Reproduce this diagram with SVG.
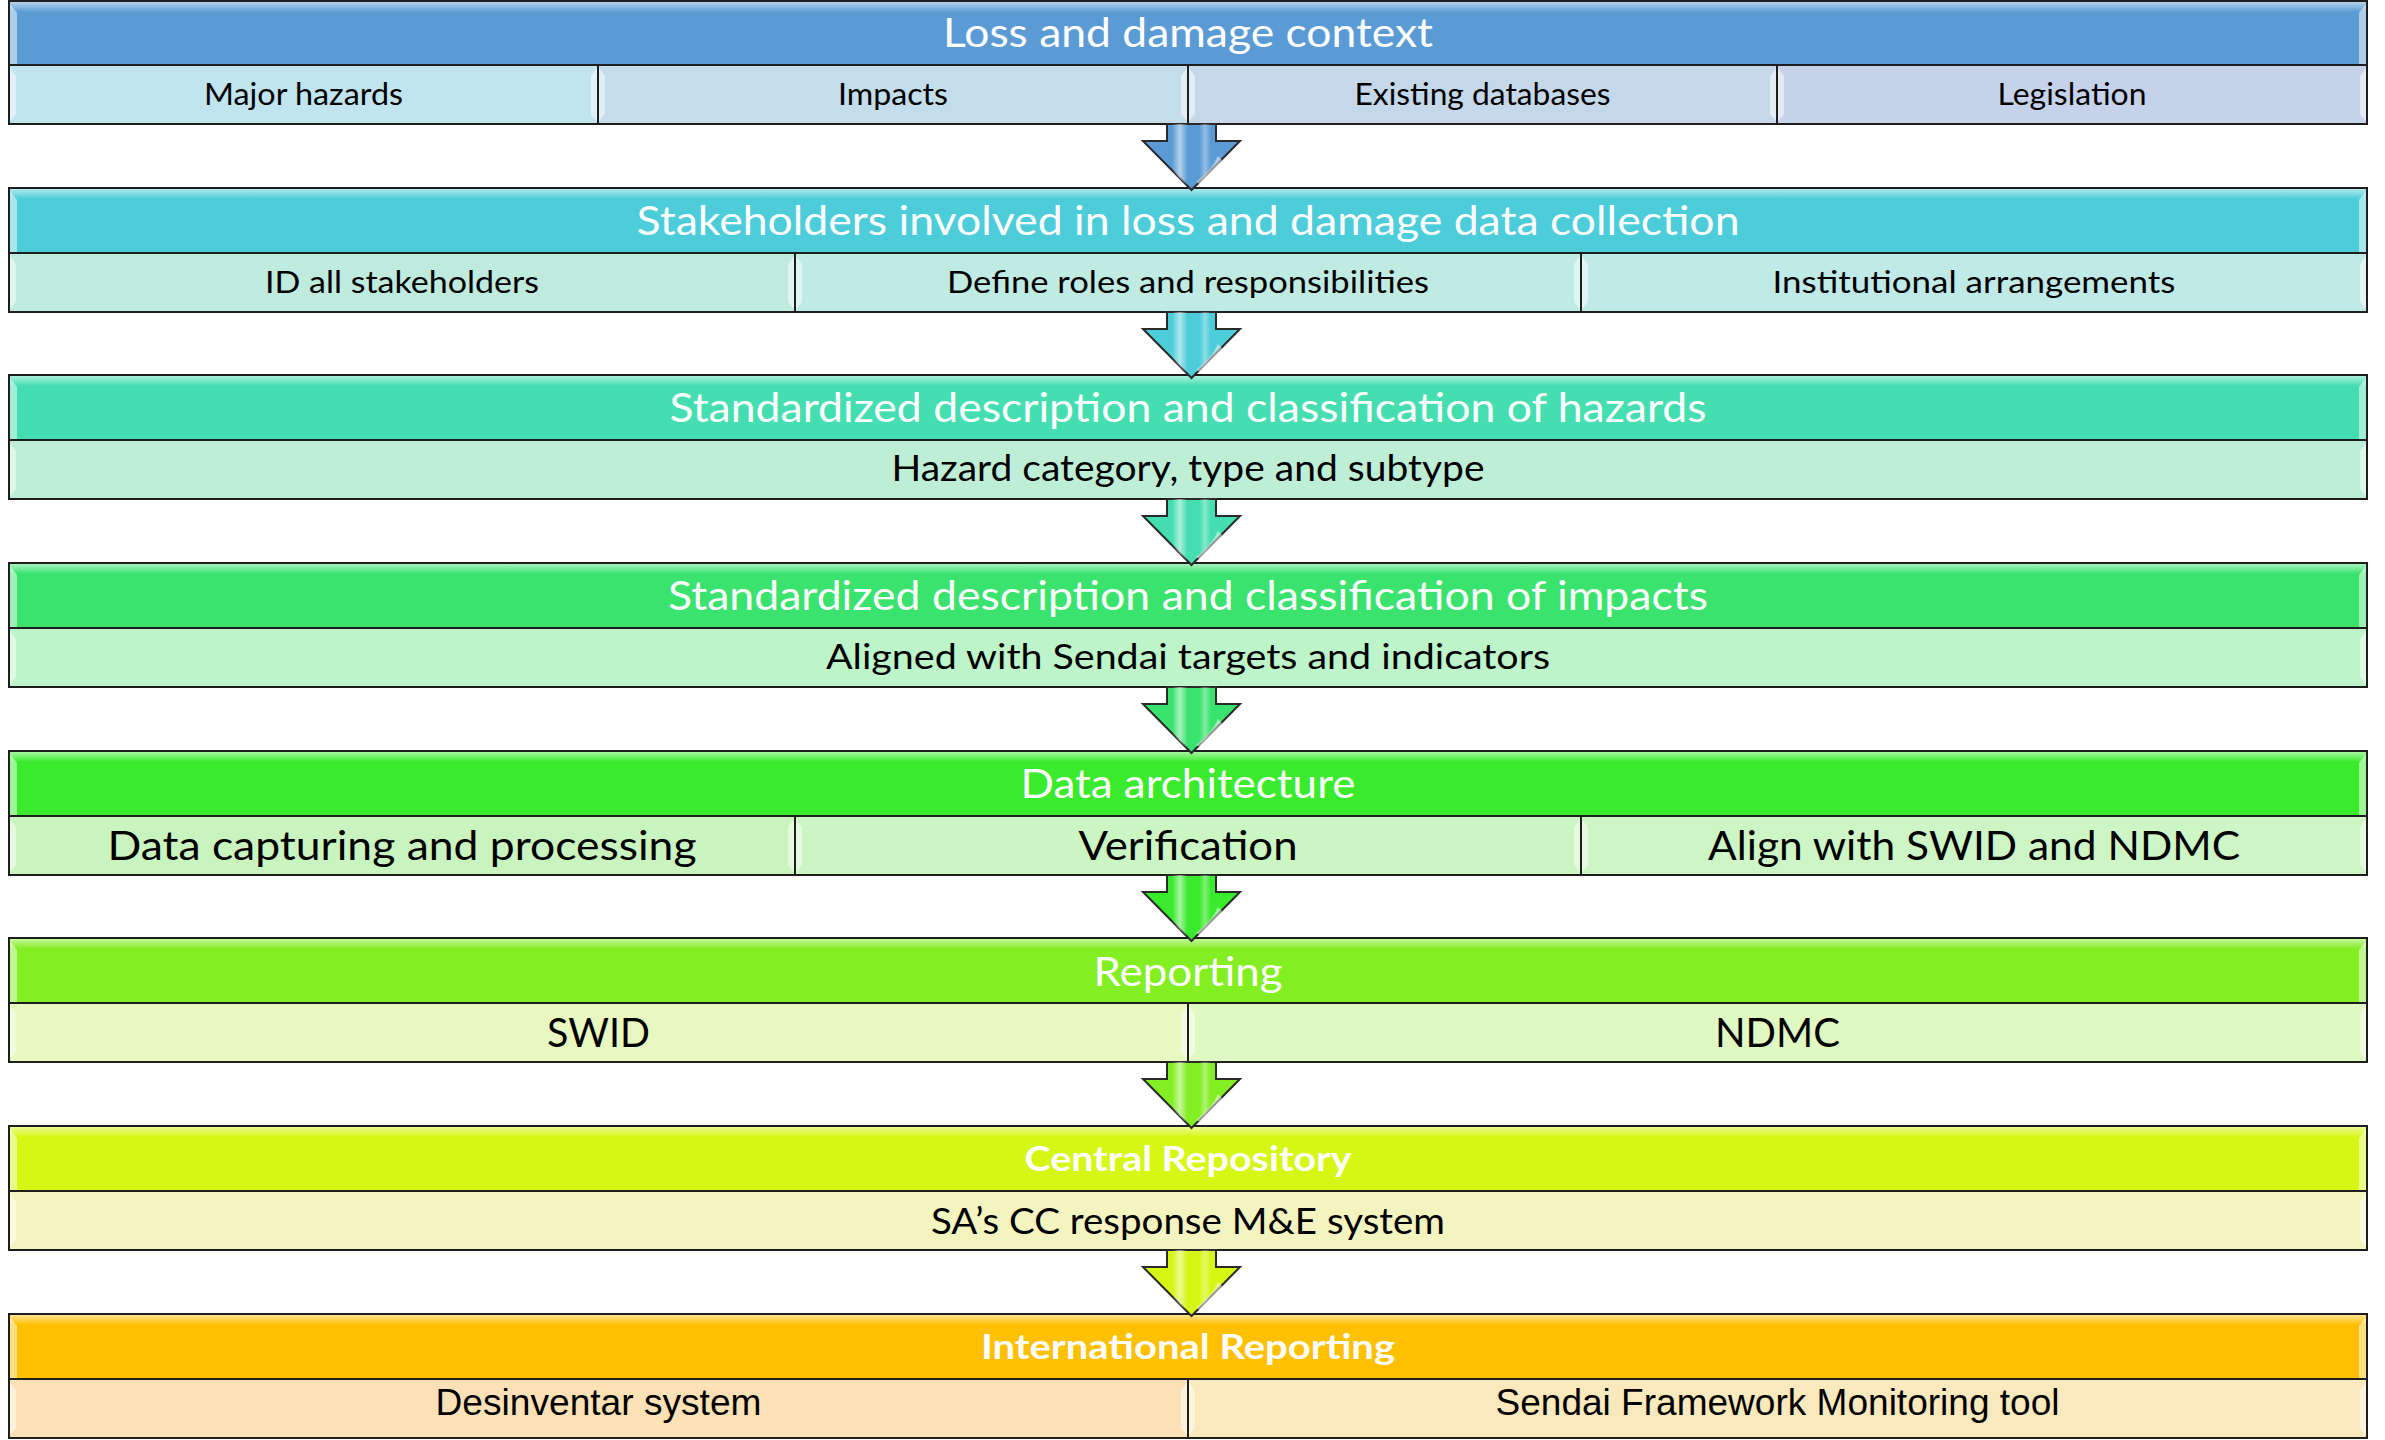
<svg xmlns="http://www.w3.org/2000/svg" xmlns:xlink="http://www.w3.org/1999/xlink" width="2385" height="1440" viewBox="0 0 2385 1440">
<style>
.hdr{stroke:#1e1e1e;stroke-width:2}
.cell{stroke:#1e1e1e;stroke-width:2}
.ht{font-family:Lato,"Open Sans","Liberation Sans",sans-serif;font-size:41px;fill:#ffffff;text-anchor:middle}
.hb{font-family:Lato,"Open Sans","Liberation Sans",sans-serif;font-size:34px;font-weight:bold;fill:#ffffff;text-anchor:middle}
.st{font-family:Lato,"Open Sans","Liberation Sans",sans-serif;fill:#000000;text-anchor:middle}
.sa{font-family:"Liberation Sans",Arial,sans-serif;font-size:36px;fill:#000000;text-anchor:middle}
.bev{fill:#ffffff;opacity:0.5}
.arrow{stroke:#2a2a2a;stroke-width:2;stroke-linejoin:miter}
</style>
<defs>
<linearGradient id="hGloss" x1="0" y1="0" x2="0" y2="1">
<stop offset="0" stop-color="#ffffff" stop-opacity="0.55"/>
<stop offset="1" stop-color="#ffffff" stop-opacity="0"/>
</linearGradient>
<linearGradient id="aGloss" x1="0" y1="0" x2="1" y2="0">
<stop offset="0" stop-color="#ffffff" stop-opacity="0"/>
<stop offset="0.3" stop-color="#ffffff" stop-opacity="0"/>
<stop offset="0.38" stop-color="#ffffff" stop-opacity="0.55"/>
<stop offset="0.46" stop-color="#ffffff" stop-opacity="0"/>
<stop offset="0.58" stop-color="#ffffff" stop-opacity="0"/>
<stop offset="0.64" stop-color="#ffffff" stop-opacity="0.35"/>
<stop offset="0.7" stop-color="#ffffff" stop-opacity="0"/>
<stop offset="1" stop-color="#ffffff" stop-opacity="0"/>
</linearGradient>
<path id="arrowShape" d="M1167,124 L1216,124 L1216,141 L1240,141 L1191.5,190 L1143,141 L1167,141 Z"/>
<path id="arrowHi" d="M1218,156 Q1212,170 1196,182 L1200,184 Q1216,172 1222,160 Z"/>
<path id="bevL" d="M0,3 L6,11 L6,49 L0,56 Z"/>
<path id="bevR" d="M0,3 L-6,11 L-6,49 L0,56 Z"/>
<path id="hbevL" d="M0,3 L7,12 L7,64 L0,64 Z"/>
<path id="hbevR" d="M0,3 L-7,12 L-7,64 L0,64 Z"/>
</defs>
<rect x="0" y="0" width="2385" height="1440" fill="#ffffff"/>

<!-- Band 1 -->
<g id="band1">
<g id="band1-header">
<rect class="hdr" x="9" y="1" width="2358" height="64" fill="#5B9BD5"/>
<rect x="10" y="2" width="2356" height="10" fill="url(#hGloss)"/>
<use href="#hbevL" x="10" y="1" class="bev"/><use href="#hbevR" x="2366" y="1" class="bev"/>
<text class="ht" x="1188" y="47" textLength="490" lengthAdjust="spacingAndGlyphs">Loss and damage context</text>
</g>
<g id="band1-cell1"><rect class="cell" x="9" y="65" width="589" height="59" fill="#C1E5EE"/><use href="#bevL" x="10" y="65" class="bev"/><use href="#bevR" x="597" y="65" class="bev"/>
<text class="st" font-size="31" x="303.5" y="105" textLength="199" lengthAdjust="spacingAndGlyphs">Major hazards</text></g>
<g id="band1-cell2"><rect class="cell" x="598" y="65" width="590" height="59" fill="#C3DEEA"/><use href="#bevL" x="599" y="65" class="bev"/><use href="#bevR" x="1187" y="65" class="bev"/>
<text class="st" font-size="31" x="893" y="105" textLength="110" lengthAdjust="spacingAndGlyphs">Impacts</text></g>
<g id="band1-cell3"><rect class="cell" x="1188" y="65" width="589" height="59" fill="#C5D8EA"/><use href="#bevL" x="1189" y="65" class="bev"/><use href="#bevR" x="1776" y="65" class="bev"/>
<text class="st" font-size="31" x="1482.5" y="105" textLength="256" lengthAdjust="spacingAndGlyphs">Existing databases</text></g>
<g id="band1-cell4"><rect class="cell" x="1777" y="65" width="590" height="59" fill="#C6D2EA"/><use href="#bevL" x="1778" y="65" class="bev"/><use href="#bevR" x="2366" y="65" class="bev"/>
<text class="st" font-size="31" x="2072" y="105" textLength="149" lengthAdjust="spacingAndGlyphs">Legislation</text></g>
</g>

<!-- Band 2 -->
<g id="band2">
<g id="band2-header">
<rect class="hdr" x="9" y="188" width="2358" height="65" fill="#4DCCD9"/>
<rect x="10" y="189" width="2356" height="10" fill="url(#hGloss)"/>
<use href="#hbevL" x="10" y="188" class="bev"/><use href="#hbevR" x="2366" y="188" class="bev"/>
<text class="ht" x="1188" y="235" textLength="1103" lengthAdjust="spacingAndGlyphs">Stakeholders involved in loss and damage data collection</text>
</g>
<g id="band2-cell1"><rect class="cell" x="9" y="253" width="786" height="59" fill="#BFEBDE"/><use href="#bevL" x="10" y="253" class="bev"/><use href="#bevR" x="794" y="253" class="bev"/>
<text class="st" font-size="31" x="402" y="293" textLength="274" lengthAdjust="spacingAndGlyphs">ID all stakeholders</text></g>
<g id="band2-cell2"><rect class="cell" x="795" y="253" width="786" height="59" fill="#BFEBE2"/><use href="#bevL" x="796" y="253" class="bev"/><use href="#bevR" x="1580" y="253" class="bev"/>
<text class="st" font-size="31" x="1188" y="293" textLength="482" lengthAdjust="spacingAndGlyphs">Define roles and responsibilities</text></g>
<g id="band2-cell3"><rect class="cell" x="1581" y="253" width="786" height="59" fill="#C0EAE8"/><use href="#bevL" x="1582" y="253" class="bev"/><use href="#bevR" x="2366" y="253" class="bev"/>
<text class="st" font-size="31" x="1974" y="293" textLength="403" lengthAdjust="spacingAndGlyphs">Institutional arrangements</text></g>
</g>

<!-- Band 3 -->
<g id="band3">
<g id="band3-header">
<rect class="hdr" x="9" y="375" width="2358" height="65" fill="#44DEB0"/>
<rect x="10" y="376" width="2356" height="10" fill="url(#hGloss)"/>
<use href="#hbevL" x="10" y="375" class="bev"/><use href="#hbevR" x="2366" y="375" class="bev"/>
<text class="ht" x="1188" y="422" textLength="1037" lengthAdjust="spacingAndGlyphs">Standardized description and classification of hazards</text>
</g>
<g id="band3-cell1"><rect class="cell" x="9" y="440" width="2358" height="59" fill="#BEEFD6"/><use href="#bevL" x="10" y="440" class="bev"/><use href="#bevR" x="2366" y="440" class="bev"/>
<text class="st" font-size="36" x="1188" y="481" textLength="593" lengthAdjust="spacingAndGlyphs">Hazard category, type and subtype</text></g>
</g>

<!-- Band 4 -->
<g id="band4">
<g id="band4-header">
<rect class="hdr" x="9" y="563" width="2358" height="65" fill="#3AE36E"/>
<rect x="10" y="564" width="2356" height="10" fill="url(#hGloss)"/>
<use href="#hbevL" x="10" y="563" class="bev"/><use href="#hbevR" x="2366" y="563" class="bev"/>
<text class="ht" x="1188" y="610" textLength="1040" lengthAdjust="spacingAndGlyphs">Standardized description and classification of impacts</text>
</g>
<g id="band4-cell1"><rect class="cell" x="9" y="628" width="2358" height="59" fill="#BDF4CA"/><use href="#bevL" x="10" y="628" class="bev"/><use href="#bevR" x="2366" y="628" class="bev"/>
<text class="st" font-size="35" x="1188" y="669" textLength="724" lengthAdjust="spacingAndGlyphs">Aligned with Sendai targets and indicators</text></g>
</g>

<!-- Band 5 -->
<g id="band5">
<g id="band5-header">
<rect class="hdr" x="9" y="751" width="2358" height="65" fill="#3AEA2C"/>
<rect x="10" y="752" width="2356" height="10" fill="url(#hGloss)"/>
<use href="#hbevL" x="10" y="751" class="bev"/><use href="#hbevR" x="2366" y="751" class="bev"/>
<text class="ht" x="1188" y="798" textLength="335" lengthAdjust="spacingAndGlyphs">Data architecture</text>
</g>
<g id="band5-cell1"><rect class="cell" x="9" y="816" width="786" height="59" fill="#C9F4BF"/><use href="#bevL" x="10" y="816" class="bev"/><use href="#bevR" x="794" y="816" class="bev"/>
<text class="st" font-size="41" x="402" y="860" textLength="589" lengthAdjust="spacingAndGlyphs">Data capturing and processing</text></g>
<g id="band5-cell2"><rect class="cell" x="795" y="816" width="786" height="59" fill="#CBF5C2"/><use href="#bevL" x="796" y="816" class="bev"/><use href="#bevR" x="1580" y="816" class="bev"/>
<text class="st" font-size="41" x="1188" y="860" textLength="219" lengthAdjust="spacingAndGlyphs">Verification</text></g>
<g id="band5-cell3"><rect class="cell" x="1581" y="816" width="786" height="59" fill="#CDF5C5"/><use href="#bevL" x="1582" y="816" class="bev"/><use href="#bevR" x="2366" y="816" class="bev"/>
<text class="st" font-size="41" x="1974" y="860" textLength="532" lengthAdjust="spacingAndGlyphs">Align with SWID and NDMC</text></g>
</g>

<!-- Band 6 -->
<g id="band6">
<g id="band6-header">
<rect class="hdr" x="9" y="938" width="2358" height="65" fill="#83EE22"/>
<rect x="10" y="939" width="2356" height="10" fill="url(#hGloss)"/>
<use href="#hbevL" x="10" y="938" class="bev"/><use href="#hbevR" x="2366" y="938" class="bev"/>
<text class="ht" x="1188" y="986" textLength="189" lengthAdjust="spacingAndGlyphs">Reporting</text>
</g>
<g id="band6-cell1"><rect class="cell" x="9" y="1003" width="1179" height="59" fill="#E8F8C0"/><use href="#bevL" x="10" y="1003" class="bev"/><use href="#bevR" x="1187" y="1003" class="bev"/>
<text class="st" font-size="41" x="598.5" y="1047" textLength="103" lengthAdjust="spacingAndGlyphs">SWID</text></g>
<g id="band6-cell2"><rect class="cell" x="1188" y="1003" width="1179" height="59" fill="#E0F8C2"/><use href="#bevL" x="1189" y="1003" class="bev"/><use href="#bevR" x="2366" y="1003" class="bev"/>
<text class="st" font-size="41" x="1777.5" y="1047" textLength="125" lengthAdjust="spacingAndGlyphs">NDMC</text></g>
</g>

<!-- Band 7 -->
<g id="band7">
<g id="band7-header">
<rect class="hdr" x="9" y="1126" width="2358" height="65" fill="#D5F713"/>
<rect x="10" y="1127" width="2356" height="10" fill="url(#hGloss)"/>
<use href="#hbevL" x="10" y="1126" class="bev"/><use href="#hbevR" x="2366" y="1126" class="bev"/>
<text class="hb" x="1188" y="1171" textLength="327" lengthAdjust="spacingAndGlyphs">Central Repository</text>
</g>
<g id="band7-cell1"><rect class="cell" x="9" y="1191" width="2358" height="59" fill="#F3F4BF"/><use href="#bevL" x="10" y="1191" class="bev"/><use href="#bevR" x="2366" y="1191" class="bev"/>
<text class="st" font-size="37" x="1188" y="1234" textLength="514" lengthAdjust="spacingAndGlyphs">SA’s CC response M&amp;E system</text></g>
</g>

<!-- Band 8 -->
<g id="band8">
<g id="band8-header">
<rect class="hdr" x="9" y="1314" width="2358" height="65" fill="#FFC000"/>
<rect x="10" y="1315" width="2356" height="10" fill="url(#hGloss)"/>
<use href="#hbevL" x="10" y="1314" class="bev"/><use href="#hbevR" x="2366" y="1314" class="bev"/>
<text class="hb" x="1188" y="1359" textLength="414" lengthAdjust="spacingAndGlyphs">International Reporting</text>
</g>
<g id="band8-cell1"><rect class="cell" x="9" y="1379" width="1179" height="59" fill="#FCE0B6"/><use href="#bevL" x="10" y="1379" class="bev"/><use href="#bevR" x="1187" y="1379" class="bev"/>
<text class="sa" x="598.5" y="1415" textLength="326" lengthAdjust="spacingAndGlyphs">Desinventar system</text></g>
<g id="band8-cell2"><rect class="cell" x="1188" y="1379" width="1179" height="59" fill="#FAE9BD"/><use href="#bevL" x="1189" y="1379" class="bev"/><use href="#bevR" x="2366" y="1379" class="bev"/>
<text class="sa" x="1777.5" y="1415" textLength="564" lengthAdjust="spacingAndGlyphs">Sendai Framework Monitoring tool</text></g>
</g>

<!-- Connectors -->
<g id="connectors">
<g id="arrow1"><use href="#arrowShape" class="arrow" fill="#5B9BD5"/><use href="#arrowShape" fill="url(#aGloss)"/><use href="#arrowHi" fill="#ffffff" opacity="0.5"/></g>
<g id="arrow2" transform="translate(0,188)"><use href="#arrowShape" class="arrow" fill="#4DCCD9"/><use href="#arrowShape" fill="url(#aGloss)"/><use href="#arrowHi" fill="#ffffff" opacity="0.5"/></g>
<g id="arrow3" transform="translate(0,375)"><use href="#arrowShape" class="arrow" fill="#44DEB0"/><use href="#arrowShape" fill="url(#aGloss)"/><use href="#arrowHi" fill="#ffffff" opacity="0.5"/></g>
<g id="arrow4" transform="translate(0,563)"><use href="#arrowShape" class="arrow" fill="#3AE36E"/><use href="#arrowShape" fill="url(#aGloss)"/><use href="#arrowHi" fill="#ffffff" opacity="0.5"/></g>
<g id="arrow5" transform="translate(0,751)"><use href="#arrowShape" class="arrow" fill="#3AEA2C"/><use href="#arrowShape" fill="url(#aGloss)"/><use href="#arrowHi" fill="#ffffff" opacity="0.5"/></g>
<g id="arrow6" transform="translate(0,938)"><use href="#arrowShape" class="arrow" fill="#83EE22"/><use href="#arrowShape" fill="url(#aGloss)"/><use href="#arrowHi" fill="#ffffff" opacity="0.5"/></g>
<g id="arrow7" transform="translate(0,1126)"><use href="#arrowShape" class="arrow" fill="#D5F713"/><use href="#arrowShape" fill="url(#aGloss)"/><use href="#arrowHi" fill="#ffffff" opacity="0.5"/></g>
</g>
</svg>
